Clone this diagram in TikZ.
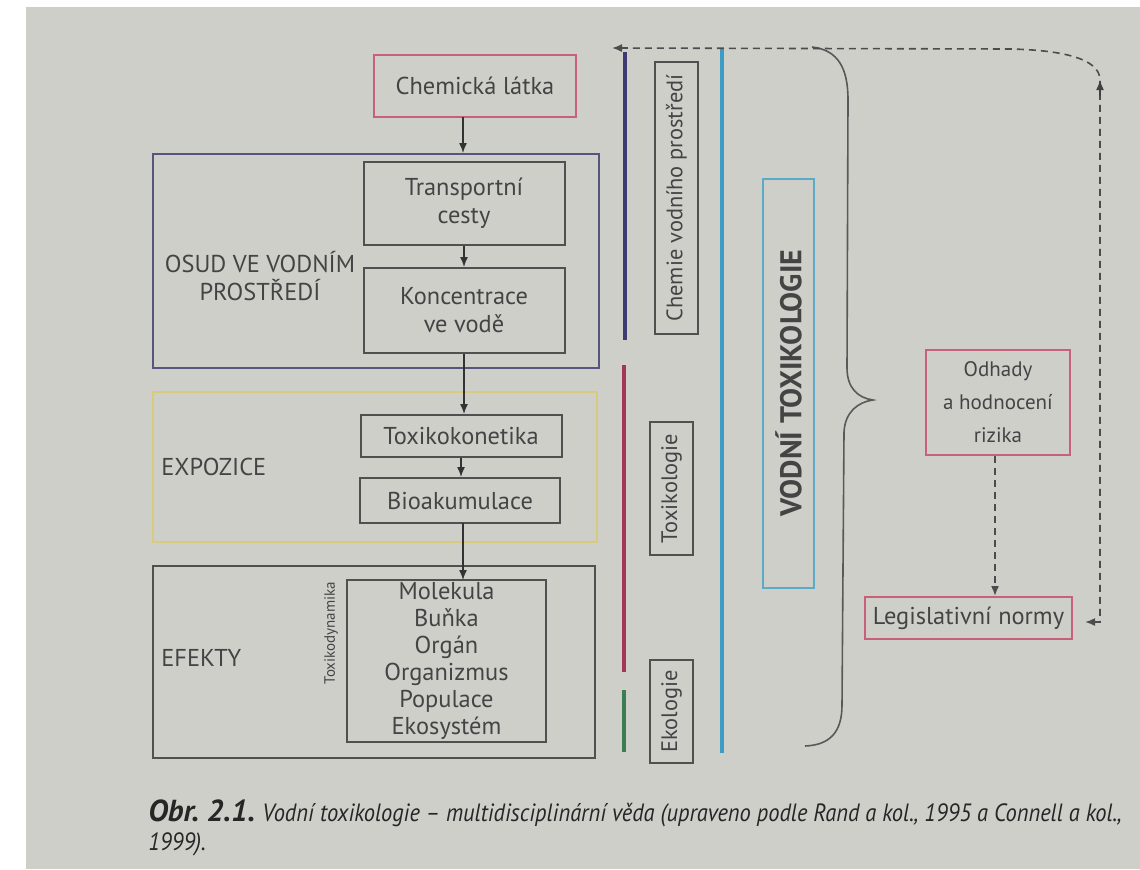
\documentclass[tikz,border=0pt]{standalone}
\usepackage{fontspec}
\setmainfont{PT Sans}
\newfontfamily\capfont[FakeStretch=0.9]{PT Sans}
\usetikzlibrary{arrows.meta,calc}
\definecolor{bg}{HTML}{CFCFCA}
\definecolor{txt}{HTML}{444444}
\definecolor{pinkred}{HTML}{C8607A}
\definecolor{slate}{HTML}{55557E}
\definecolor{yel}{HTML}{D9CB7E}
\definecolor{dgray}{HTML}{505050}
\definecolor{navy}{HTML}{3C3C72}
\definecolor{maroon}{HTML}{A33555}
\definecolor{grn}{HTML}{3E7C52}
\definecolor{cyanl}{HTML}{3C9CC4}
\definecolor{cyanb}{HTML}{5AAAC8}
\tikzset{
  bx/.style={draw=#1, line width=1pt, inner sep=0pt, align=center, text=txt, font=\fontsize{12.2}{14}\selectfont},
  grp/.style={draw=#1, line width=0.9pt, inner sep=0pt},
  lbl/.style={text=txt, font=\fontsize{12.2}{14}\selectfont, inner sep=0pt},
  vbx/.style={draw=#1, line width=1pt, inner sep=0pt, text=txt, font=\fontsize{11.2}{12}\selectfont},
  arr/.style={draw=black!80, line width=0.7pt, -{Latex[length=5pt,width=4pt]}},
  darr/.style={draw=black!70, line width=0.8pt, dash pattern=on 3.5pt off 2.5pt},
  disc/.style={line width=1.6pt},
}
\begin{document}
\begin{tikzpicture}[x=0.5pt,y=-0.5pt]
\useasboundingbox (0,0) rectangle (1140,869);
\fill[white] (0,0) rectangle (1140,869);
\fill[bg] (26,7) rectangle (1140,869);

% left column: group boxes
\node[grp=slate, minimum width=223pt, minimum height=107pt] (osud) at (376,261) {};
\node[grp=yel, minimum width=222pt, minimum height=75pt] (expo) at (375,467) {};
\node[grp=dgray, minimum width=221pt, minimum height=96pt] (efek) at (374,662) {};

\node[lbl, align=center] (osudl) at (260,276) {OSUD VE VODNÍM\\PROSTŘEDÍ};
\node[lbl, anchor=west] (expol) at (161,467) {EXPOZICE};
\node[lbl, anchor=west] (efekl) at (161,658) {EFEKTY};

% process boxes
\node[bx=pinkred, minimum width=101pt, minimum height=31pt] (chem) at (475,86) {Chemická látka};
\node[bx=dgray, minimum width=100.5pt, minimum height=41.5pt] (trans) at (464,203.5) {Transportní\\cesty};
\node[bx=dgray, minimum width=100.5pt, minimum height=42.5pt] (konc) at (464,310.5) {Koncentrace\\ve vodě};
\node[bx=dgray, minimum width=100.5pt, minimum height=21pt] (tkin) at (461,436) {Toxikokonetika};
\node[bx=dgray, minimum width=100pt, minimum height=22.5pt] (bioak) at (460,500.5) {Bioakumulace};
\node[bx=dgray, minimum width=99.5pt, minimum height=81pt, font=\fontsize{12.2}{13.5}\selectfont] (inner) at (446.5,661) {Molekula\\Buňka\\Orgán\\Organizmus\\Populace\\Ekosystém};
\node[text=txt, font=\fontsize{7.5}{8}\selectfont, rotate=90, inner sep=0pt] (tdyn) at (331,633) {Toxikodynamika};

% arrows
\draw[arr] (463,117) -- (463,153);
\draw[arr] (trans.south) -- (trans.south |- konc.north);
\draw[arr] (konc.south) -- (konc.south |- tkin.north);
\draw[arr] (tkin.south) -- (tkin.south |- bioak.north);
\draw[arr] (463,523) -- (463,580);

% discipline lines
\coordinate (navytop) at (625,52);
\coordinate (navybot) at (625,340);
\draw[navy, disc] (navytop) -- (navybot);
\coordinate (martop) at (624,365);
\coordinate (marbot) at (624,672);
\draw[maroon, disc] (martop) -- (marbot);
\coordinate (grntop) at (624,690);
\coordinate (grnbot) at (624,752);
\draw[grn, disc] (grntop) -- (grnbot);
\coordinate (cyatop) at (722,48);
\coordinate (cyabot) at (722,753);
\draw[cyanl, disc] (cyatop) -- (cyabot);

% discipline boxes
\node[vbx=dgray, minimum width=136pt, minimum height=21.5pt, rotate=90] (chemie) at (676.5,198) {Chemie vodního prostředí};
\node[vbx=dgray, minimum width=66.5pt, minimum height=21.5pt, rotate=90] (toxi) at (671.5,488.5) {Toxikologie};
\node[vbx=dgray, minimum width=51.5pt, minimum height=21.5pt, rotate=90] (ekol) at (671.5,711.5) {Ekologie};
\node[vbx=cyanb, minimum width=204.5pt, minimum height=25.5pt, rotate=90, font=\fontsize{15}{16}\selectfont\bfseries] (vodni) at (788.5,383) {VODNÍ TOXIKOLOGIE};

% brace
\draw[black!65, line width=0.8pt] (812,47) .. controls (838,50) and (848,68) .. (848,100)
  -- (847,368) .. controls (847,388) and (858,398) .. (873,400)
  .. controls (858,402) and (845,412) .. (844,432)
  -- (842,705) .. controls (842,732) and (830,745) .. (805,746);

% right part
\node[bx=pinkred, minimum width=72pt, minimum height=52.5pt, font=\fontsize{10.5}{16.5}\selectfont] (odh) at (998,402.5) {Odhady\\a hodnocení\\rizika};
\node[bx=pinkred, minimum width=103.5pt, minimum height=21pt] (leg) at (968.5,618) {Legislativní normy};
\draw[darr, -{Latex[length=5pt,width=4pt]}] (odh.south -| 995,0) -- (leg.north -| 995,0);

\coordinate (fbr) at (1100,622);
\coordinate (fup) at (1100,80);
\coordinate (fend) at (612,48);
\draw[darr, {Latex[length=5pt,width=4pt]}-{Latex[length=5pt,width=4pt]}] ($(leg.east)+(12,4)$) -- (fbr) -- (fup)
  .. controls (1100,58) and (1060,50) .. (1010,49) -- (fend);
\draw[black!75, line width=0.8pt, -{Latex[length=5pt,width=4pt]}] (1100,96) -- (fup);

% caption
\node[anchor=north west, align=left, inner sep=0pt, text=black!85] (cap) at (148,799)
 {{\fontsize{15.2}{16}\selectfont\bfseries\itshape Obr.~2.1.} {\capfont\itshape\fontsize{12.5}{14}\selectfont Vodní toxikologie – multidisciplinární věda (upraveno podle Rand a kol., 1995 a Connell a kol.,}\\[2.5pt]
 {\capfont\itshape\fontsize{12.5}{14}\selectfont 1999).}};
\end{tikzpicture}
\end{document}
